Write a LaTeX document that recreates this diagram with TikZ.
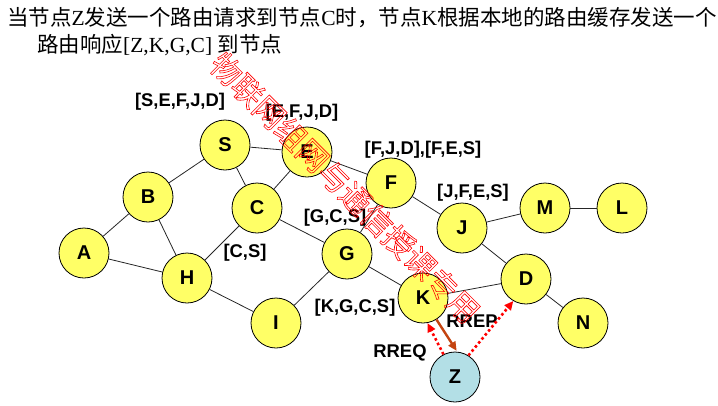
\documentclass[tikz,border=0pt]{standalone}
\usepackage{fontspec}
\setmainfont{Liberation Serif}
\setsansfont{Liberation Sans}
\newfontfamily\cjk{Noto Sans CJK SC}
\usepackage{tikz}
\usetikzlibrary{arrows.meta}
\definecolor{hostfill}{HTML}{FFFF66}
\definecolor{srcfill}{HTML}{B3DFE6}
\definecolor{replycol}{HTML}{C44410}
\definecolor{probecol}{HTML}{FF0000}
\newcommand\hollowtext[1]{\special{pdf:literal direct 1 Tr 0.6 w}#1\special{pdf:literal direct 0 Tr}}
\tikzset{
    host/.style={circle, draw=black, fill=hostfill, line width=0.8pt, minimum size=50pt, inner sep=0pt, font=\fontsize{20}{20}\selectfont\sffamily\bfseries},
    source/.style={host, fill=srcfill},
    link/.style={line width=0.8pt, draw=black!85},
    cache/.style={inner sep=0pt, font=\fontsize{18.4}{18.4}\selectfont\sffamily\bfseries},
    caption/.style={anchor=west, inner sep=0pt, font=\fontsize{21.5}{21.5}\selectfont},
    reply/.style={-{Triangle[length=9pt,width=8pt]}, line width=2.4pt, color=replycol, shorten >=1pt},
    probe/.style={-{Triangle[length=9pt,width=8pt]}, line width=2.6pt, dash pattern=on 2.6pt off 2.6pt, color=probecol},
    watermark/.style={inner sep=0pt, text=red, font=\cjk\fontsize{30.5}{30.5}\selectfont}
}
\begin{document}
\begin{tikzpicture}[x=1pt, y=-1pt]
    \useasboundingbox (0,0) rectangle (718,405);

    % heading
    \node [caption] (head1) at (7,18) {{\cjk 当节点}Z{\cjk 发送一个路由请求到节点}C{\cjk 时，节点}K{\cjk 根据本地的路由缓存发送一个}};
    \node [caption] (head2) at (37,45) {{\cjk 路由响应}[Z,K,G,C] {\cjk 到节点}};

    % hosts
    \node [host] (nS) at (225,145) {S};
    \node [host] (nE) at (307,152) {E};
    \node [host] (nB) at (148,197) {B};
    \node [host] (nC) at (257,208) {C};
    \node [host] (nF) at (391,183) {F};
    \node [host] (nA) at (84,253) {A};
    \node [host] (nH) at (187,278) {H};
    \node [host] (nG) at (347,254) {G};
    \node [host] (nJ) at (462,228) {J};
    \node [host] (nM) at (545,208) {M};
    \node [host] (nL) at (622,208) {L};
    \node [host] (nD) at (526,279) {D};
    \node [host] (nK) at (423,298) {K};
    \node [host] (nI) at (276,323) {I};
    \node [host] (nN) at (583,323) {N};
    \node [source] (nZ) at (455,377) {Z};

    % links
    \draw [link] (nA) -- (nB);
    \draw [link] (nA) -- (nH);
    \draw [link] (nB) -- (nS);
    \draw [link] (nB) -- (nH);
    \draw [link] (nS) -- (nE);
    \draw [link] (nS) -- (nC);
    \draw [link] (nC) -- (nE);
    \draw [link] (nC) -- (nH);
    \draw [link] (nC) -- (nG);
    \draw [link] (nE) -- (nF);
    \draw [link] (nF) -- (nG);
    \draw [link] (nF) -- (nJ);
    \draw [link] (nJ) -- (nM);
    \draw [link] (nM) -- (nL);
    \draw [link] (nJ) -- (nD);
    \draw [link] (nD) -- (nN);
    \draw [link] (nD) -- (nK);
    \draw [link] (nG) -- (nK);
    \draw [link] (nG) -- (nI);
    \draw [link] (nH) -- (nI);

    % route caches
    \node [cache] (cS) at (180,102) {[S,E,F,J,D]};
    \node [cache] (cE) at (302,113) {[E,F,J,D]};
    \node [cache] (cF) at (423,150) {[F,J,D],[F,E,S]};
    \node [cache] (cJ) at (473,193) {[J,F,E,S]};
    \node [cache] (cG) at (335,218) {[G,C,S]};
    \node [cache] (cC) at (245,253) {[C,S]};
    \node [cache] (cK) at (355,308) {[K,G,C,S]};
    \node [cache] (rrep) at (472,321) {RREP};
    \node [cache] (rreq) at (400,353) {RREQ};

    % request and reply
    \draw [reply] (nK.-58) -- (nZ.85);
    \draw [probe] (nZ.117) -- (nK.-80);
    \draw [probe] (nZ.58) -- (nD.240);

    \node [watermark, rotate=-45] (wm) at (345,188) {\hollowtext{物联网组网与通信授课专用}};
\end{tikzpicture}
\end{document}
